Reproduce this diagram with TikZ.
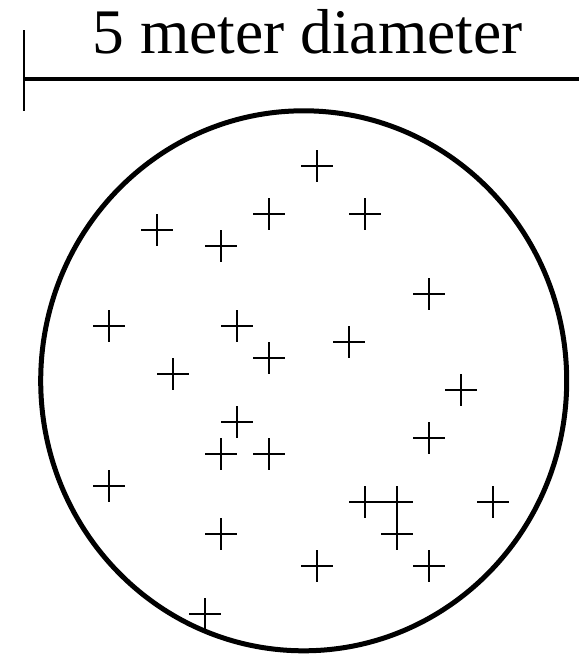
\documentclass[tikz,border=0pt]{standalone}
\usepackage{fontspec}
\setmainfont{Liberation Serif}
\tikzset{
  hit/.style={minimum size=32pt, inner sep=0pt, path picture={
    \draw[line width=1.6pt] (path picture bounding box.west) -- (path picture bounding box.east)
      (path picture bounding box.north) -- (path picture bounding box.south);}}
}
\begin{document}
\begin{tikzpicture}[x=1pt, y=-1pt]
  \useasboundingbox (0,0) rectangle (579,654);
  % scale bar
  \coordinate (barL) at (24,79.3);
  \coordinate (barR) at (579,79.3);
  \draw[line width=4pt] (barL) -- (barR);
  \draw[line width=2pt] (24,30) -- (24,110.7);
  \node[anchor=base, font=\fontsize{63.5}{70}\selectfont, inner sep=0pt] (label) at (307.5,53) {5 meter diameter};
  % plot
  \draw[line width=5pt] (303.7,380.8) ellipse [x radius=263, y radius=270];
  \foreach \x/\y [count=\i] in {317/166, 157/230, 221/246, 269/214, 365/214, 429/294,
      109/326, 237/326, 269/358, 349/342, 173/374, 461/390, 237/422, 221/454,
      269/454, 429/438, 109/486, 365/502, 397/502, 493/502, 397/534, 221/534,
      317/566, 429/566, 205/614}
    \node[hit] (p\i) at (\x,\y) {};
\end{tikzpicture}
\end{document}
